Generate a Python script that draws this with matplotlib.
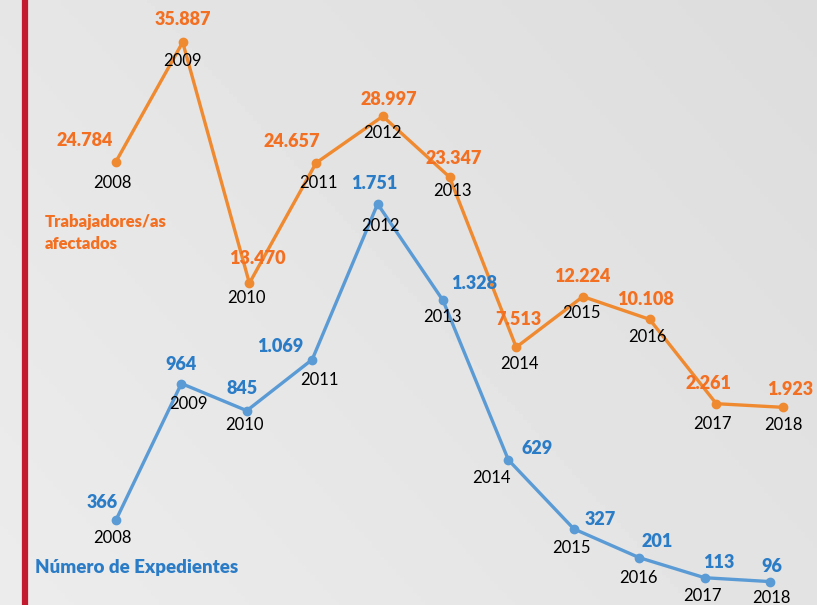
import numpy as np
import matplotlib.pyplot as plt

# ----- Data
years = [2008, 2009, 2010, 2011, 2012, 2013, 2014, 2015, 2016, 2017, 2018]
trabajadores = [24784, 35887, 13470, 24657, 28997, 23347, 7513, 12224, 10108, 2261, 1923]
expedientes = [366, 964, 845, 1069, 1751, 1328, 629, 327, 201, 113, 96]

# ----- Label placement (pixel offsets from each point)
trab_val_off = [(-31, 21), (0, 23), (8, 25), (-24, 21), (6, 17), (4, 19), (2, 28), (-1, 20), (-4, 20), (-8, 20), (7, 18)]
trab_year_off = [(-4, -21), (0, -19), (-3, -15), (2, -20), (0, -17), (3, -14), (3, -17), (-1, -16), (-2, -18), (-4, -20), (0, -18)]
expe_val_off = [(-14, 17), (0, 19), (-5, 22), (-32, 13), (-3, 20), (31, 17), (29, 11), (26, 9), (18, 16), (14, 15), (2, 15)]
expe_year_off = [(-4, -18), (7, -20), (-2, -14), (7, -20), (3, -22), (-1, -17), (-17, -18), (-2, -19), (-1, -20), (-2, -18), (1, -16)]

orange_line = '#f08a30'
orange_text = '#f36f21'
blue_line = '#5b9bd5'
blue_text = '#2b7cc7'
font = 'Lato'

W, H = 817, 605
fig = plt.figure(figsize=(W / 100, H / 100), dpi=100)

# background gradient
bg = fig.add_axes([0, 0, 1, 1])
gx, gy = np.meshgrid(np.linspace(0, 1, 200), np.linspace(0, 1, 200))
g = 0.925 - 0.06 * (0.6 * gx + 0.4 * (1 - gy))
bg.imshow(g, cmap='gray', vmin=0, vmax=1, aspect='auto', extent=[0, 1, 0, 1])
bg.axvline(0.0306, color='#c41a30', lw=4.5)
bg.set_xlim(0, 1)
bg.set_ylim(0, 1)
bg.axis('off')


def series_axes(x0px, steppx, pxper, top_zero):
    ax = fig.add_axes([0, 0, 1, 1])
    ax.patch.set_alpha(0)
    ax.set_xlim(years[0] - x0px / steppx, years[0] + (W - x0px) / steppx)
    base = H - top_zero
    ax.set_ylim(-base / pxper, (H - base) / pxper)
    ax.axis('off')
    return ax


def fmt(v):
    return f'{v:,}'.replace(',', '.')


ax1 = series_axes(116, 66.7, 0.01075, 428)
ax1.plot(years, trabajadores, color=orange_line, lw=2.4, marker='o', ms=6)
for x, v, vo, yo in zip(years, trabajadores, trab_val_off, trab_year_off):
    ax1.annotate(fmt(v), (x, v), xytext=vo, textcoords='offset pixels', ha='center', va='center',
                 color=orange_text, fontsize=13, fontweight='heavy', family=font)
    ax1.annotate(str(x), (x, v), xytext=yo, textcoords='offset pixels', ha='center', va='center',
                 color='black', fontsize=12, family=font)

ax2 = series_axes(116, 65.4, 0.2282, 603.5)
ax2.plot(years, expedientes, color=blue_line, lw=2.4, marker='o', ms=6)
for x, v, vo, yo in zip(years, expedientes, expe_val_off, expe_year_off):
    ax2.annotate(fmt(v), (x, v), xytext=vo, textcoords='offset pixels', ha='center', va='center',
                 color=blue_text, fontsize=13, fontweight='heavy', family=font)
    ax2.annotate(str(x), (x, v), xytext=yo, textcoords='offset pixels', ha='center', va='center',
                 color='black', fontsize=12, family=font)

fig.text(45 / W, 1 - 233 / H, 'Trabajadores/as\nafectados', color=orange_text, fontsize=12,
         fontweight='heavy', family=font, ha='left', va='center', linespacing=1.5)
fig.text(35 / W, 1 - 567 / H, 'Número de Expedientes', color=blue_text, fontsize=13.5,
         fontweight='heavy', family=font, ha='left', va='center')

fig.savefig('out.png', dpi=100)
